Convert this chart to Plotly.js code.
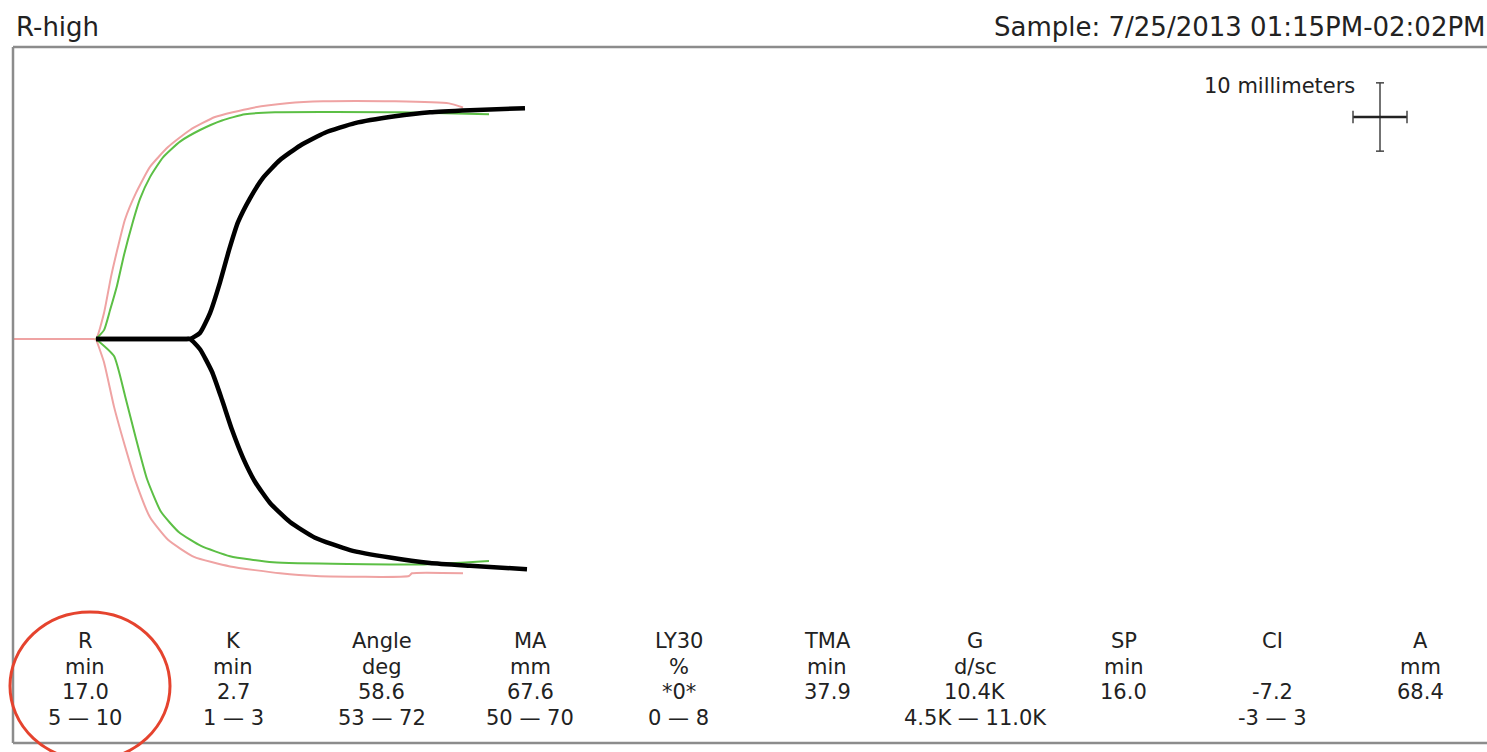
<!DOCTYPE html>
<html><head><meta charset="utf-8">
<script src="https://cdn.plot.ly/plotly-3.0.1.min.js"></script>
<style>html,body{margin:0;padding:0;background:#fff;overflow:hidden}#chart{width:1487px;height:752px}</style>
</head><body><div id="chart"></div>
<script>
// ---- Data (time in minutes, amplitude in mm from baseline) ----
const blackUpperT = [8.3, 17.2, 17.7, 18.7, 19.7, 20.7, 21.6, 22.5, 23.7, 25.0, 26.7, 28.7, 31.2, 34.2, 38.2, 41.7, 45.7, 51.2];
const blackUpperA = [0, 0, 0, 0.9, 3.8, 8.3, 13.0, 17.1, 20.6, 23.6, 26.2, 28.3, 30.2, 31.6, 32.6, 33.2, 33.5, 33.8];
const blackLowerT = [8.3, 17.2, 17.7, 18.7, 19.9, 20.9, 21.9, 23.0, 24.2, 25.7, 27.7, 30.2, 33.7, 37.7, 41.7, 45.7, 51.4];
const blackLowerA = [0, 0, 0, -1.5, -4.8, -8.9, -13.3, -17.4, -20.9, -24.0, -26.8, -29.1, -30.9, -32.0, -32.8, -33.2, -33.7];

const pinkUpperT = [0, 7.9, 8.3, 9.1, 9.8, 10.5, 11.2, 12.3, 13.7, 15.5, 17.7, 20.2, 23.8, 27.4, 31.0, 38.2, 43.6, 45.0];
const pinkUpperA = [0, 0, 0, 3.8, 9.1, 13.5, 17.5, 21.4, 25.2, 28.1, 30.6, 32.5, 33.8, 34.5, 34.8, 34.8, 34.5, 33.9];
const pinkLowerT = [8.3, 9.1, 10.1, 11.2, 12.3, 13.7, 15.5, 18.1, 21.7, 26.7, 30.3, 39.6, 39.9, 45.0];
const pinkLowerA = [0, -3.4, -9.9, -15.7, -21.0, -26.1, -29.4, -31.9, -33.3, -34.3, -34.7, -34.7, -34.3, -34.3];

const greenUpperT = [8.3, 9.1, 9.7, 10.4, 11.1, 11.9, 12.7, 13.7, 15.0, 16.7, 18.7, 20.9, 23.2, 26.2, 38.7, 47.6];
const greenUpperA = [0, 1.3, 4.2, 7.8, 12.3, 16.7, 20.5, 23.7, 26.6, 28.9, 30.6, 32.0, 32.9, 33.2, 33.2, 32.9];
const greenLowerT = [8.3, 10.1, 11.2, 12.3, 13.4, 14.8, 16.6, 18.8, 21.7, 26.0, 41.1, 47.6];
const greenLowerA = [0, -2.5, -8.3, -14.6, -20.5, -25.3, -28.3, -30.3, -31.8, -32.7, -33.0, -32.5];

// ---- Table ----
const paramNames  = ['R', 'K', 'Angle', 'MA', 'LY30', 'TMA', 'G', 'SP', 'CI', 'A'];
const paramUnits  = ['min', 'min', 'deg', 'mm', '%', 'min', 'd/sc', 'min', '', 'mm'];
const paramValues = ['17.0', '2.7', '58.6', '67.6', '*0*', '37.9', '10.4K', '16.0', '-7.2', '68.4'];
const paramRanges = ['5 \u2014 10', '1 \u2014 3', '53 \u2014 72', '50 \u2014 70', '0 \u2014 8', '', '4.5K \u2014 11.0K', '', '-3 \u2014 3', ''];

const chartTitle = 'R-high';
const sampleText = 'Sample: 7/25/2013 01:15PM-02:02PM';
const scaleLabel = '10 millimeters';
const scaleBarMM = 10;

// ---- Geometry ----
const W = 1487, H = 752;
const L = 13, T = 48, PW = 1474, PH = 695;
const xPerPx = 0.1;            // minutes per pixel
const yPerPx = 1 / 6.83;       // mm per pixel
const basePx = 339;
const xRange = [0, PW * xPerPx];
const yRange = [-(T + PH - basePx) * yPerPx, (basePx - T) * yPerPx];
const px = x => (x - L) / PW;            // pixel -> paper x
const py = y => (T + PH - y) / PH;       // pixel -> paper y

const font = 'DejaVu Sans, Verdana, sans-serif';
const txt = '#222';

const traces = [
  {x: pinkUpperT, y: pinkUpperA, line: {color: '#efa3a3', width: 2}},
  {x: pinkLowerT, y: pinkLowerA, line: {color: '#efa3a3', width: 2}},
  {x: greenUpperT, y: greenUpperA, line: {color: '#5cbf45', width: 2}},
  {x: greenLowerT, y: greenLowerA, line: {color: '#5cbf45', width: 2}},
  {x: blackUpperT, y: blackUpperA, line: {color: '#000', width: 4.5}},
  {x: blackLowerT, y: blackLowerA, line: {color: '#000', width: 4.5}}
].map(t => Object.assign({type: 'scatter', mode: 'lines', hoverinfo: 'skip', showlegend: false}, t, {line: Object.assign({shape: 'spline', smoothing: 0.5}, t.line)}));

const annotations = [
  {text: chartTitle, x: px(14), y: py(27), xanchor: 'left', yanchor: 'middle', font: {size: 26, color: txt, family: font}},
  {text: sampleText, x: px(1488), y: py(27), xanchor: 'right', yanchor: 'middle', font: {size: 26, color: txt, family: font}},
  {text: scaleLabel, x: px(1357), y: py(86), xanchor: 'right', yanchor: 'middle', font: {size: 21, color: txt, family: font}}
];
const rowsPx = [641, 667, 692, 718];
paramNames.forEach((n, i) => {
  const cx = 85 + i * 148.4;
  [n, paramUnits[i], paramValues[i], paramRanges[i]].forEach((s, r) => {
    if (!s) return;
    annotations.push({text: s, x: px(cx), y: py(rowsPx[r]), xanchor: 'center', yanchor: 'middle',
      font: {size: 21, color: txt, family: font}});
  });
});
annotations.forEach(a => { a.xref = 'paper'; a.yref = 'paper'; a.showarrow = false; });

// scale bar (in data units)
const sbT = (1380 - L) * xPerPx, sbA = (basePx - 117) * yPerPx;
const sbHalfV = scaleBarMM / 2, sbHalfH = 2.7, capT = 0.4, capA = 0.9;
const frame = '#8c8c8c';
const shapes = [
  {type: 'line', xref: 'paper', yref: 'paper', x0: px(13), x1: px(1487), y0: py(47), y1: py(47), line: {color: frame, width: 2.5}},
  {type: 'line', xref: 'paper', yref: 'paper', x0: px(13), x1: px(13), y0: py(47), y1: py(743), line: {color: frame, width: 2.5}},
  {type: 'line', xref: 'paper', yref: 'paper', x0: px(13), x1: px(1487), y0: py(743), y1: py(743), line: {color: frame, width: 2.5}},
  {type: 'line', x0: sbT, x1: sbT, y0: sbA - sbHalfV, y1: sbA + sbHalfV, line: {color: '#444', width: 1.5}},
  {type: 'line', x0: sbT - capT, x1: sbT + capT, y0: sbA + sbHalfV, y1: sbA + sbHalfV, line: {color: '#444', width: 1.5}},
  {type: 'line', x0: sbT - capT, x1: sbT + capT, y0: sbA - sbHalfV, y1: sbA - sbHalfV, line: {color: '#444', width: 1.5}},
  {type: 'line', x0: sbT - sbHalfH, x1: sbT + sbHalfH, y0: sbA, y1: sbA, line: {color: '#222', width: 2.5}},
  {type: 'line', x0: sbT - sbHalfH, x1: sbT - sbHalfH, y0: sbA - capA, y1: sbA + capA, line: {color: '#444', width: 1.5}},
  {type: 'line', x0: sbT + sbHalfH, x1: sbT + sbHalfH, y0: sbA - capA, y1: sbA + capA, line: {color: '#444', width: 1.5}},
  {type: 'circle', xref: 'paper', yref: 'paper', x0: px(10), x1: px(170), y0: py(612), y1: py(760), line: {color: '#e5432e', width: 3}}
];

const layout = {
  width: W, height: H,
  margin: {l: L, r: W - L - PW, t: T, b: H - T - PH, pad: 0},
  paper_bgcolor: '#fff', plot_bgcolor: '#fff',
  xaxis: {range: xRange, visible: false, fixedrange: true},
  yaxis: {range: yRange, visible: false, fixedrange: true},
  annotations, shapes, showlegend: false
};
Plotly.newPlot('chart', traces, layout, {displayModeBar: false, staticPlot: true});
</script>
</body></html>
